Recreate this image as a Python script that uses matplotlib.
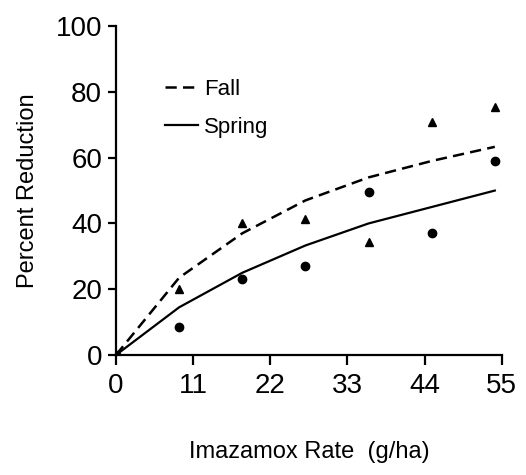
import matplotlib
matplotlib.use("Agg")
import matplotlib.pyplot as plt
from matplotlib import font_manager

# imazamox rate (g/ha) and observed percent reduction
rates = [0, 9, 18, 27, 36, 45, 54]
fall_obs = [0, 20, 40, 41.5, 34.5, 71, 75.5]
spring_obs = [0, 8.5, 23, 27, 49.5, 37, 59]

# fitted curves
fit_rates = [0, 9, 18, 27, 36, 45, 54]
fall_fit = [0, 23.5, 37, 47, 54, 59, 63.3]
spring_fit = [0, 14.5, 25, 33.3, 40, 45, 50]

xticks = [0, 11, 22, 33, 44, 55]
yticks = [0, 20, 40, 60, 80, 100]

names = {f.name for f in font_manager.fontManager.ttflist}
family = "Liberation Sans Narrow" if "Liberation Sans Narrow" in names else "Liberation Sans"
plt.rcParams["font.family"] = family

fig = plt.figure(figsize=(5.26, 4.75), dpi=100)
ax = fig.add_axes([0.2205, 0.2526, 0.954 - 0.2205, 0.945 - 0.2526])

ax.plot(fit_rates, fall_fit, color="black", lw=1.8, ls=(0, (4.5, 2.5)), label="Fall")
ax.plot(fit_rates, spring_fit, color="black", lw=1.6, label="Spring")
ax.plot(rates, fall_obs, ls="none", marker="^", ms=6, color="black")
ax.plot(rates, spring_obs, ls="none", marker="o", ms=6, color="black")

ax.set_xlim(0, 55)
ax.set_ylim(0, 100)
ax.set_xticks(xticks)
ax.set_yticks(yticks)
ax.spines["top"].set_visible(False)
ax.spines["right"].set_visible(False)
for s in ("left", "bottom"):
    ax.spines[s].set_linewidth(1.6)
ax.tick_params(axis="both", direction="out", width=1.6, labelsize=20)
ax.tick_params(axis="x", length=7, pad=6)
ax.tick_params(axis="y", length=6, pad=4)

ax.set_xlabel("Imazamox Rate  (g/ha)", fontsize=17, labelpad=30)
ax.set_ylabel("Percent Reduction", fontsize=17, labelpad=12)

ax.legend(loc="upper left", bbox_to_anchor=(0.075, 0.9), frameon=False,
          fontsize=16, handlelength=1.5, handletextpad=0.25, labelspacing=0.75)

fig.savefig("out.png", dpi=100)
